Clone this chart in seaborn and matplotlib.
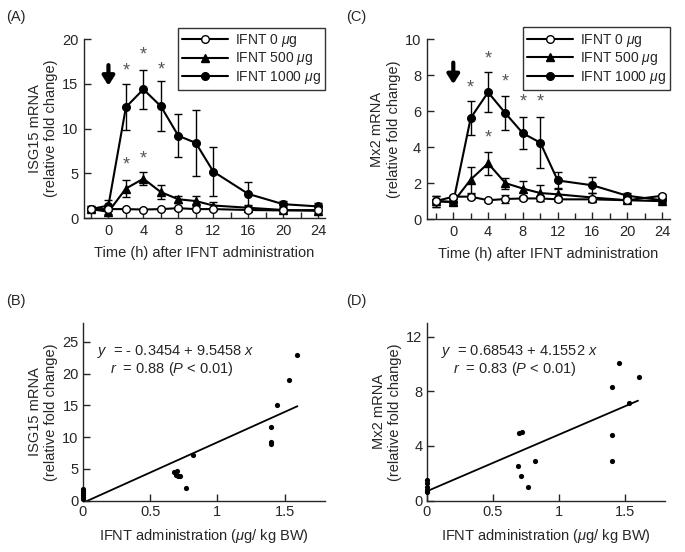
import numpy as np
import pandas as pd
import matplotlib
matplotlib.use("Agg")
import matplotlib.pyplot as plt
import seaborn as sns
from matplotlib.lines import Line2D

# Curso temporal (A, C)
hours = [-2, 0, 2, 4, 6, 8, 10, 12, 16, 20, 24]

isg15_0 = [1.0, 1.0, 1.0, 0.95, 1.0, 1.1, 1.0, 1.0, 0.9, 0.85, 0.9]
isg15_0_err = [0.1, 0.1, 0.1, 0.1, 0.1, 0.15, 0.1, 0.1, 0.1, 0.1, 0.1]
isg15_500 = [1.0, 0.7, 3.3, 4.4, 2.9, 2.1, 1.9, 1.4, 1.15, 0.9, 0.8]
isg15_500_err = [0.3, 0.3, 1.0, 0.7, 0.75, 0.4, 0.6, 0.4, 0.3, 0.2, 0.2]
isg15_1000 = [1.0, 1.4, 12.4, 14.4, 12.5, 9.2, 8.4, 5.2, 2.7, 1.55, 1.3]
isg15_1000_err = [0.3, 0.6, 2.6, 2.2, 2.8, 2.4, 3.7, 2.7, 1.3, 0.35, 0.4]

mx2_0 = [1.0, 1.25, 1.25, 1.05, 1.12, 1.15, 1.15, 1.1, 1.1, 1.05, 1.3]
mx2_0_err = [0.1, 0.1, 0.15, 0.08, 0.2, 0.1, 0.12, 0.1, 0.1, 0.1, 0.1]
mx2_500 = [1.0, 0.95, 2.2, 3.1, 2.0, 1.7, 1.45, 1.38, 1.2, 1.05, 1.0]
mx2_500_err = [0.3, 0.15, 0.72, 0.65, 0.3, 0.42, 0.45, 0.35, 0.25, 0.15, 0.1]
mx2_1000 = [1.0, 0.95, 5.62, 7.05, 5.88, 4.77, 4.25, 2.15, 1.88, 1.3, 1.05]
mx2_1000_err = [0.3, 0.15, 0.93, 1.1, 0.95, 0.88, 1.42, 0.45, 0.45, 0.15, 0.1]

# asteriscos de significancia
isg15_star_h = [2, 4, 6, 2, 4]
isg15_star_y = [16.5, 18.2, 16.6, 5.9, 6.6]
mx2_star_h = [2, 4, 6, 8, 10, 4]
mx2_star_y = [7.3, 8.9, 7.6, 6.5, 6.5, 4.5]

# Correlaciones (B, D)
isg15_dose = [0, 0, 0, 0, 0, 0, 0.675, 0.70, 0.705, 0.725, 0.69, 0.77, 0.82,
              1.40, 1.40, 1.40, 1.445, 1.53, 1.59]
isg15_fold = [0.3, 0.6, 0.9, 1.2, 1.5, 1.8, 4.56, 4.66, 3.9, 3.9, 4.0, 1.94, 7.2,
              9.0, 9.3, 11.6, 15.0, 19.0, 22.9]
isg15_fit = (-0.3454, 9.5458)

mx2_dose = [0, 0, 0, 0, 0, 0.695, 0.72, 0.69, 0.71, 0.82, 0.765,
            1.40, 1.40, 1.40, 1.45, 1.53, 1.60]
mx2_fold = [0.66, 0.8, 1.0, 1.3, 1.52, 4.95, 5.0, 2.5, 1.81, 2.87, 0.98,
            2.87, 4.82, 8.33, 10.04, 7.15, 9.04]
mx2_fit = (0.68543, 4.1552)

sns.set_style("ticks")
plt.rcParams['font.family'] = ['Liberation Sans', 'DejaVu Sans']
plt.rcParams['mathtext.fontset'] = 'custom'
plt.rcParams['mathtext.rm'] = 'Liberation Sans'
plt.rcParams['mathtext.it'] = 'Liberation Sans:italic'
plt.rcParams['axes.linewidth'] = 1.0

FS = 10.5

fig = plt.figure(figsize=(6.85, 5.52), dpi=100)
axA = fig.add_axes([0.1226, 0.605, 0.352, 0.324])
axC = fig.add_axes([0.623, 0.603, 0.355, 0.326])
axB = fig.add_axes([0.121, 0.093, 0.3535, 0.322])
axD = fig.add_axes([0.623, 0.093, 0.348, 0.322])

labels = ['IFNT 0 $\\mu$g', 'IFNT 500 $\\mu$g', 'IFNT 1000 $\\mu$g']


def curso(ax, y0, e0, y500, e500, y1000, e1000, star_h, star_y, ymax, yticks, ylabel, arrow):
    series = [(y1000, e1000, 'o', 'k'), (y500, e500, '^', 'k'), (y0, e0, 'o', 'white')]
    for y, e, m, fc in series:
        ax.errorbar(hours, y, yerr=e, fmt='none', ecolor='k', elinewidth=1.0,
                    capsize=3, capthick=1.0, zorder=2)
        sns.lineplot(x=hours, y=y, ax=ax, color='k', lw=1.5, marker=m, ms=5.5,
                     mfc=fc, mec='k', mew=1.0, zorder=3)
    for h, s in zip(star_h, star_y):
        ax.text(h, s, '*', ha='center', va='center', color='#555555', fontsize=13)
    ax.annotate('', xy=(0, arrow[1]), xytext=(0, arrow[0]),
                arrowprops=dict(arrowstyle='-|>,head_width=0.35,head_length=0.55',
                                lw=3, color='k', mutation_scale=10, shrinkA=0, shrinkB=0))
    ax.set_xlim(-2.8, 24.8)
    ax.set_ylim(0, ymax)
    ax.set_xticks([0, 4, 8, 12, 16, 20, 24])
    ax.set_xticks([-2, 2, 6, 10, 14, 18, 22], minor=True)
    ax.set_yticks(yticks)
    ax.tick_params(direction='in', length=5, width=1.0, labelsize=FS, pad=4)
    ax.tick_params(which='minor', direction='in', length=4, width=1.0)
    ax.set_xlabel('Time (h) after IFNT administration', fontsize=FS, labelpad=6)
    ax.set_ylabel(ylabel, fontsize=FS, labelpad=3)
    sns.despine(ax=ax)
    handles = [Line2D([], [], color='k', lw=1.5, marker='o', ms=5.5, mfc='white', mec='k'),
               Line2D([], [], color='k', lw=1.5, marker='^', ms=5.5, mfc='k', mec='k'),
               Line2D([], [], color='k', lw=1.5, marker='o', ms=5.5, mfc='k', mec='k')]
    leg = ax.legend(handles, labels, loc='upper right', bbox_to_anchor=(1.0, 1.065),
                    frameon=True, fancybox=False, edgecolor='k', fontsize=10,
                    handlelength=3.3, borderpad=0.3, labelspacing=0.12, handletextpad=0.5,
                    borderaxespad=0)
    leg.get_frame().set_linewidth(1.0)


curso(axA, isg15_0, isg15_0_err, isg15_500, isg15_500_err, isg15_1000, isg15_1000_err,
      isg15_star_h, isg15_star_y, 20, [0, 5, 10, 15, 20],
      'ISG15 mRNA\n(relative fold change)', (17.1, 14.8))
curso(axC, mx2_0, mx2_0_err, mx2_500, mx2_500_err, mx2_1000, mx2_1000_err,
      mx2_star_h, mx2_star_y, 10, [0, 2, 4, 6, 8, 10],
      'Mx2 mRNA\n(relative fold change)', (8.7, 7.5))
axC.set_xlim(-3.05, 24.9)


def correl(ax, dose, fold, fit, ymax, yticks, ylabel, eq, rtxt):
    sns.scatterplot(x=dose, y=fold, ax=ax, color='k', s=14, edgecolor='k', linewidth=0,
                    clip_on=False, zorder=3)
    xs = np.array([0, 1.595])
    ax.plot(xs, fit[0] + fit[1] * xs, color='k', lw=1.3)
    ax.set_xlim(0, 1.8)
    ax.set_ylim(0, ymax)
    ax.set_xticks([0, 0.5, 1, 1.5])
    ax.set_xticklabels(['0', '0.5', '1', '1.5'])
    ax.set_yticks(yticks)
    ax.tick_params(direction='in', length=5, width=1.0, labelsize=FS, pad=3)
    ax.set_xlabel('IFNT administration ($\\mu$g/ kg BW)', fontsize=FS, labelpad=6)
    ax.set_ylabel(ylabel, fontsize=FS, labelpad=3)
    ax.text(0.06, 0.84, eq, transform=ax.transAxes, fontsize=FS, va='center')
    ax.text(0.11, 0.74, rtxt, transform=ax.transAxes, fontsize=FS, va='center')
    sns.despine(ax=ax)


correl(axB, isg15_dose, isg15_fold, isg15_fit, 28, [0, 5, 10, 15, 20, 25],
       'ISG15 mRNA\n(relative fold change)',
       '$y$  = - 0.3454 + 9.5458 $x$', '$r$  = 0.88 ($P$ < 0.01)')
correl(axD, mx2_dose, mx2_fold, mx2_fit, 13, [0, 4, 8, 12],
       'Mx2 mRNA\n(relative fold change)',
       '$y$  = 0.68543 + 4.1552 $x$', '$r$  = 0.83 ($P$ < 0.01)')

fig.text(0.009, 0.969, '(A)', fontsize=FS, va='center')
fig.text(0.506, 0.969, '(C)', fontsize=FS, va='center')
fig.text(0.009, 0.455, '(B)', fontsize=FS, va='center')
fig.text(0.506, 0.455, '(D)', fontsize=FS, va='center')

fig.savefig('out.png', dpi=100)
